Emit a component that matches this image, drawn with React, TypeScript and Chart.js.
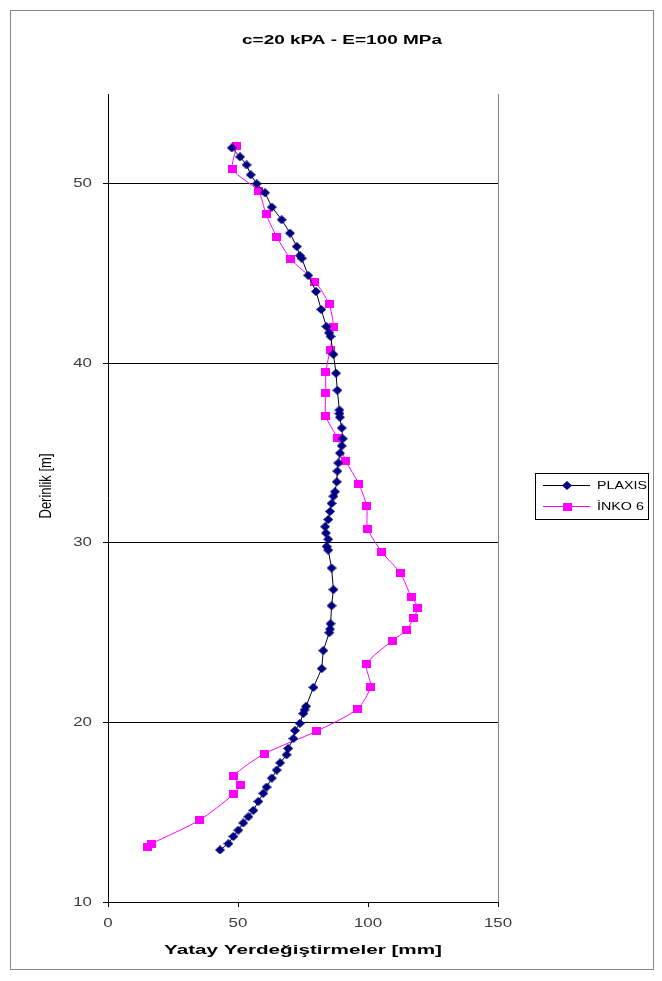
import React, { useEffect, useRef } from 'react';
import { Chart, registerables } from 'chart.js';

Chart.register(...registerables);

const chartTitle = 'c=20 kPA - E=100 MPa';
const xAxisTitle = 'Yatay Yerdeğiştirmeler [mm]';
const yAxisTitle = 'Derinlik [m]';
const seriesNames = ['PLAXIS', 'İNKO 6'];
const xTicks = [0, 50, 100, 150];
const yTicks = [10, 20, 30, 40, 50];

const plaxisDepth = [
  52.0, 51.5, 51.05, 50.5, 50.0, 49.5, 48.7, 48.0, 47.25, 46.5, 46.0, 45.85, 44.9, 44.0, 43.0,
  42.05, 41.7, 41.5, 40.5, 39.45, 38.5, 37.4, 37.2, 37.0, 36.4, 35.8, 35.4, 35.0, 34.45, 34.0,
  33.4, 32.85, 32.6, 32.2, 31.75, 31.3, 30.9, 30.55, 30.2, 29.8, 29.6, 28.6, 27.4, 26.5, 25.5,
  25.2, 25.0, 24.0, 23.0, 21.95, 20.9, 20.7, 20.5, 19.95, 19.55, 19.1, 18.55, 18.2, 17.75, 17.35,
  16.9, 16.4, 16.05, 15.6, 15.1, 14.75, 14.4, 14.0, 13.65, 13.25, 12.9,
];
const plaxisDisp = [
  47.6, 50.8, 53.3, 54.9, 57.2, 60.4, 63.0, 66.8, 70.0, 72.6, 73.8, 74.5, 77.0, 80.0, 82.0,
  84.0, 85.0, 85.6, 86.7, 87.7, 88.2, 89.0, 89.0, 89.2, 89.9, 90.3, 89.9, 89.2, 88.6, 88.2,
  88.0, 87.3, 86.7, 86.0, 85.4, 84.7, 83.5, 83.8, 84.7, 84.1, 84.7, 86.0, 86.7, 86.0, 85.6,
  85.4, 85.1, 82.8, 82.2, 79.0, 76.2, 75.6, 75.1, 73.8, 71.9, 71.3, 69.3, 68.7, 66.2, 64.9,
  63.0, 61.0, 59.7, 57.8, 55.9, 54.0, 52.0, 50.1, 48.2, 46.3, 43.1,
];

const inkoDepth = [
  52.1, 50.8, 49.6, 48.3, 47.05, 45.8, 44.55, 43.3, 42.05, 40.75, 39.5, 38.35, 37.05, 35.85,
  34.55, 33.3, 32.05, 30.8, 29.5, 28.3, 27.0, 26.4, 25.8, 25.15, 24.55, 23.25, 22.0, 20.75,
  19.5, 18.25, 17.0, 16.5, 16.0, 14.55, 13.25, 13.05,
];
const inkoDisp = [
  49.5, 48.0, 57.8, 60.8, 64.9, 70.3, 79.6, 85.0, 86.7, 85.4, 83.8, 83.8, 83.8, 88.2,
  91.5, 96.4, 99.5, 99.9, 105.3, 112.5, 116.6, 119.2, 117.4, 114.9, 109.3, 99.5, 101.0, 95.9,
  80.0, 60.1, 48.3, 50.8, 48.3, 35.1, 16.8, 15.1,
];

const PLAXIS_COLOR = '#000080';
const INKO_COLOR = '#FF00FF';
const FONT = 'Arial, "Liberation Sans", sans-serif';
const TICK_COLOR = '#3c3c3c';

function makeMarker(w: number, h: number, color: string, diamond: boolean) {
  const c = document.createElement('canvas');
  c.width = w;
  c.height = h;
  const g = c.getContext('2d')!;
  g.fillStyle = color;
  g.beginPath();
  if (diamond) {
    g.moveTo(w / 2, 0);
    g.lineTo(w, h / 2);
    g.lineTo(w / 2, h);
    g.lineTo(0, h / 2);
    g.closePath();
  } else {
    g.rect(0, 0, w, h);
  }
  g.fill();
  return c;
}

function stretchedText(
  ctx: CanvasRenderingContext2D,
  text: string,
  x: number,
  y: number,
  font: string,
  color: string,
  sx: number,
  align: CanvasTextAlign,
) {
  ctx.save();
  ctx.font = font;
  ctx.fillStyle = color;
  ctx.textAlign = align;
  ctx.textBaseline = 'middle';
  ctx.translate(x, y);
  ctx.scale(sx, 1);
  ctx.fillText(text, 0, 0);
  ctx.restore();
}

function widthText(
  ctx: CanvasRenderingContext2D,
  text: string,
  x: number,
  y: number,
  font: string,
  color: string,
  targetWidth: number,
) {
  ctx.save();
  ctx.font = font;
  const w = ctx.measureText(text).width;
  ctx.restore();
  stretchedText(ctx, text, x, y, font, color, targetWidth / w, 'center');
}

export default function App() {
  const canvasRef = useRef<HTMLCanvasElement | null>(null);

  useEffect(() => {
    if (!canvasRef.current) return;
    const diamond = makeMarker(10, 9, PLAXIS_COLOR, true);
    const square = makeMarker(9, 8, INKO_COLOR, false);

    const decorPlugin = {
      id: 'decor',
      afterDraw(chart: any) {
        const { ctx, chartArea: a, scales } = chart;
        ctx.save();
        // plot area right border
        ctx.strokeStyle = '#808080';
        ctx.lineWidth = 1;
        ctx.beginPath();
        ctx.moveTo(Math.round(a.right) + 0.5, a.top);
        ctx.lineTo(Math.round(a.right) + 0.5, a.bottom);
        ctx.stroke();

        // chart title
        widthText(ctx, chartTitle, 331, 30, 'bold 12px ' + FONT, '#000', 200);

        // tick labels (positions from the chart's own scales)
        xTicks.forEach((v) => {
          stretchedText(ctx, String(v), scales.x.getPixelForValue(v), 912, '13px ' + FONT, TICK_COLOR, 1.3, 'center');
        });
        yTicks.forEach((v) => {
          stretchedText(ctx, String(v), 81, scales.y.getPixelForValue(v), '13px ' + FONT, TICK_COLOR, 1.3, 'right');
        });

        // axis titles
        widthText(ctx, xAxisTitle, (a.left + a.right) / 2, 939, 'bold 13px ' + FONT, '#000', 278);
        ctx.save();
        ctx.translate(36, 475);
        ctx.rotate(-Math.PI / 2);
        ctx.scale(1, 1.25);
        ctx.font = '13px ' + FONT;
        ctx.fillStyle = '#000';
        ctx.textAlign = 'center';
        ctx.textBaseline = 'middle';
        ctx.fillText(yAxisTitle, 0, 0);
        ctx.restore();

        // legend
        const lx = 524, ly = 462, lw = 113, lh = 46;
        ctx.strokeStyle = '#000';
        ctx.lineWidth = 1;
        ctx.strokeRect(lx + 0.5, ly + 0.5, lw, lh);
        const rows = [ly + 12, ly + 33];
        rows.forEach((ry, i) => {
          ctx.strokeStyle = i === 0 ? '#000022' : INKO_COLOR;
          ctx.beginPath();
          ctx.moveTo(lx + 8, ry + 0.5);
          ctx.lineTo(lx + 55, ry + 0.5);
          ctx.stroke();
          const m = i === 0 ? diamond : square;
          ctx.drawImage(m, lx + 32 - m.width / 2, ry + 0.5 - m.height / 2);
          stretchedText(ctx, seriesNames[i], lx + 62, ry + 1, '11px ' + FONT, '#000', 1.3, 'left');
        });
        ctx.restore();
      },
    };

    const chart = new Chart(canvasRef.current, {
      type: 'scatter',
      data: {
        datasets: [
          {
            label: seriesNames[0],
            data: plaxisDepth.map((d, i) => ({ x: plaxisDisp[i], y: d })),
            showLine: true,
            borderColor: '#000022',
            borderWidth: 1,
            backgroundColor: PLAXIS_COLOR,
            pointStyle: diamond,
            pointRadius: 5,
            tension: 0,
          },
          {
            label: seriesNames[1],
            data: inkoDepth.map((d, i) => ({ x: inkoDisp[i], y: d })),
            showLine: true,
            borderColor: INKO_COLOR,
            borderWidth: 1,
            backgroundColor: INKO_COLOR,
            pointStyle: square,
            pointRadius: 5,
            tension: 0.25,
          },
        ],
      },
      options: {
        responsive: false,
        animation: false,
        layout: { padding: { left: 29, right: 155, top: 83, bottom: 0 } },
        plugins: {
          legend: { display: false },
          title: { display: false },
          tooltip: { enabled: false },
        },
        scales: {
          x: {
            type: 'linear',
            min: 0,
            max: 150,
            afterBuildTicks: (s: any) => {
              s.ticks = xTicks.map((v) => ({ value: v }));
            },
            afterFit: (s: any) => {
              s.height = 67;
            },
            grid: { drawOnChartArea: false, drawTicks: true, tickLength: 5, color: '#000' },
            border: { color: '#000', width: 1 },
            ticks: { display: false },
            title: { display: false, text: xAxisTitle },
          },
          y: {
            type: 'linear',
            min: 10,
            max: 55,
            afterBuildTicks: (s: any) => {
              s.ticks = yTicks.map((v) => ({ value: v }));
            },
            afterFit: (s: any) => {
              s.width = 68;
            },
            grid: { color: '#000', drawTicks: true, tickLength: 5 },
            border: { color: '#000', width: 1 },
            ticks: { display: false },
            title: { display: false, text: yAxisTitle },
          },
        },
      },
      plugins: [decorPlugin],
    });
    return () => chart.destroy();
  }, []);

  return (
    <div
      style={{
        marginLeft: 2,
        marginTop: 2,
        width: 642,
        height: 958,
        border: '1px solid #888',
        background: '#fff',
      }}
    >
      <canvas ref={canvasRef} width={642} height={958} style={{ display: 'block' }} />
    </div>
  );
}
